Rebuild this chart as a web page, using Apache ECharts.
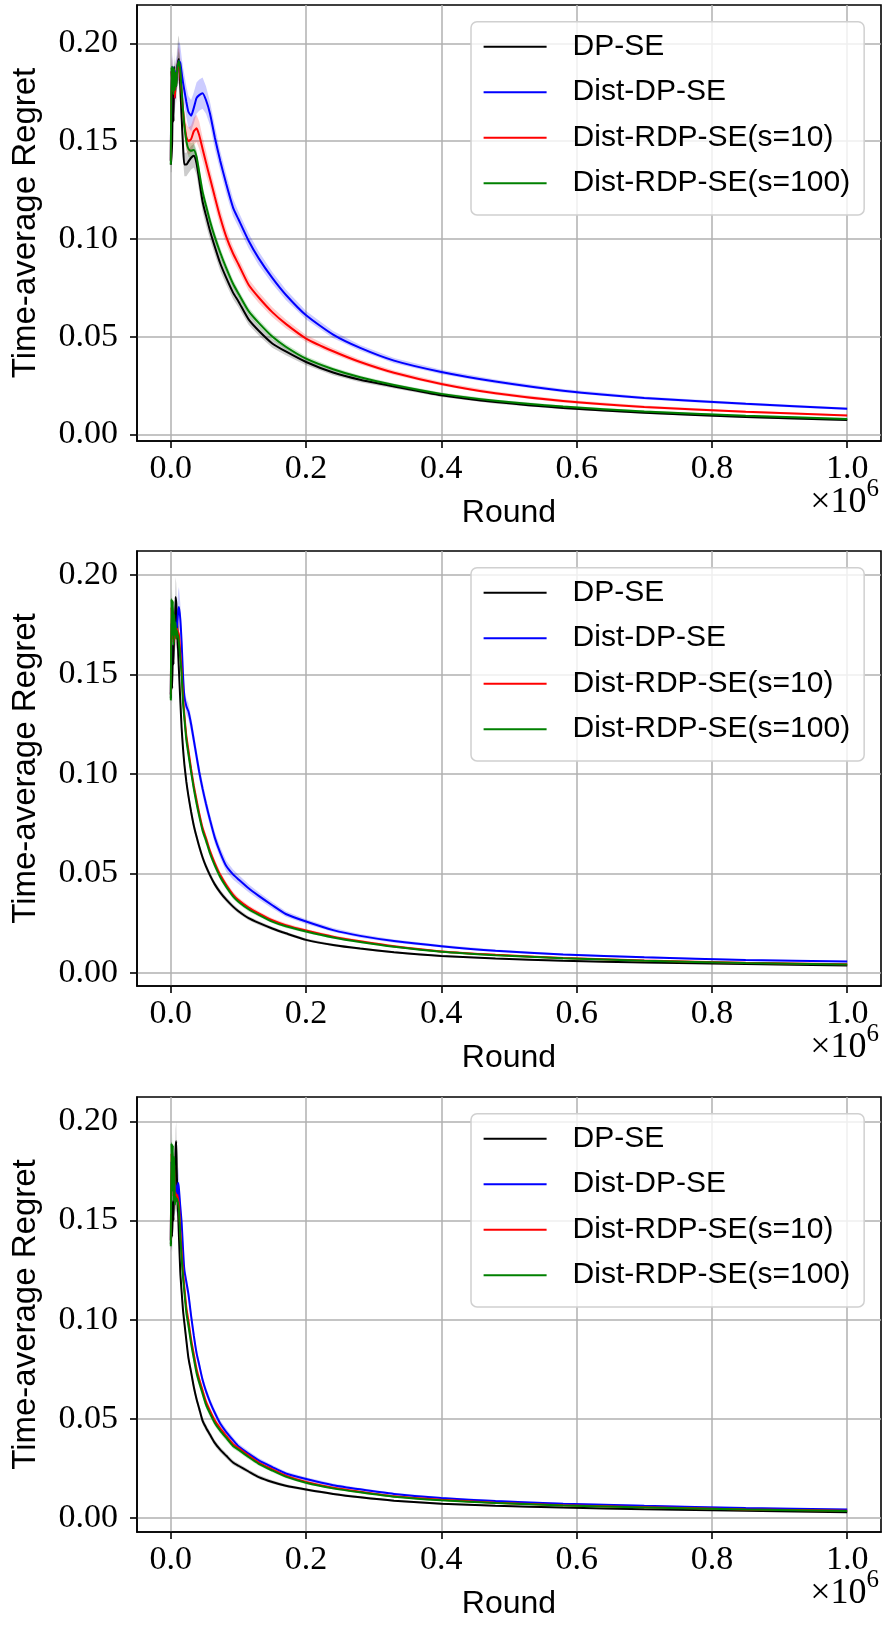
<!DOCTYPE html>
<html>
<head>
<meta charset="utf-8">
<script src="https://cdn.jsdelivr.net/npm/echarts@6/dist/echarts.min.js"></script>
<style>
  html, body { margin: 0; padding: 0; background: #fff; }
  #chart { width: 882px; height: 1625px; }
</style>
</head>
<body>
<div id="chart"></div>
<script>
// round index, in units of 10^6 rounds
const roundE6 = [0, 0.001, 0.002, 0.003, 0.004, 0.005, 0.006, 0.007, 0.008, 0.009, 0.010, 0.011, 0.012,
  0.014, 0.016, 0.018, 0.020, 0.023, 0.026, 0.030, 0.034, 0.038, 0.042, 0.047, 0.052, 0.058, 0.065,
  0.073, 0.082, 0.092, 0.10, 0.115, 0.13, 0.15, 0.17, 0.20, 0.24, 0.28, 0.33, 0.40, 0.48, 0.58, 0.70, 0.85, 1.00];

const methods = ['DP-SE', 'Dist-DP-SE', 'Dist-RDP-SE(s=10)', 'Dist-RDP-SE(s=100)'];
const xTicks = [0, 0.2, 0.4, 0.6, 0.8, 1.0];
const yTicks = [0, 0.05, 0.10, 0.15, 0.20];

// ---- panel 1: mean time-average regret
const p1Dpse = [0.138,0.142,0.150,0.185,0.160,0.188,0.172,0.184,0.178,0.186,0.189,0.191,0.192,
  0.178,0.162,0.148,0.138,0.138,0.1395,0.1415,0.1425,0.1387,0.130,0.119,0.112,0.104,0.096,
  0.0875,0.080,0.0725,0.068,0.0588,0.053,0.0465,0.0424,0.0370,0.0316,0.0279,0.0245,0.0200,0.0165,0.0135,0.0111,0.0089,0.0073];
const p1Dist = [0.140,0.186,0.178,0.188,0.176,0.184,0.172,0.182,0.186,0.184,0.188,0.190,0.191,
  0.190,0.185,0.180,0.176,0.170,0.165,0.163,0.167,0.172,0.1735,0.1745,0.171,0.164,0.152,
  0.140,0.128,0.116,0.110,0.099,0.090,0.080,0.0714,0.0609,0.051,0.0442,0.0377,0.0319,0.0270,0.0223,0.0186,0.0156,0.0131];
const p1Rdp10 = [0.140,0.186,0.176,0.187,0.175,0.183,0.172,0.181,0.185,0.183,0.187,0.189,0.190,
  0.184,0.175,0.166,0.159,0.152,0.150,0.151,0.155,0.1565,0.153,0.146,0.139,0.131,0.1215,
  0.111,0.101,0.0925,0.087,0.0765,0.070,0.0625,0.0565,0.049,0.0425,0.037,0.0315,0.0258,0.0210,0.0170,0.0140,0.0115,0.0097];
const p1Rdp100 = [0.138,0.188,0.176,0.188,0.174,0.187,0.176,0.185,0.178,0.184,0.188,0.190,0.191,
  0.186,0.176,0.166,0.158,0.150,0.146,0.145,0.1455,0.142,0.134,0.124,0.117,0.109,0.101,
  0.093,0.085,0.077,0.072,0.063,0.057,0.050,0.0448,0.0387,0.0333,0.0292,0.0252,0.0207,0.0172,0.0142,0.0117,0.0095,0.0079];
// panel 1: half width of the shaded band
const p1DpseBand = [0.004,0.008,0.008,0.008,0.008,0.008,0.008,0.008,0.009,0.010,0.011,0.012,0.012,
  0.010,0.008,0.007,0.006,0.006,0.006,0.006,0.006,0.006,0.006,0.005,0.005,0.0045,0.004,
  0.004,0.0035,0.0033,0.003,0.0028,0.0025,0.0022,0.002,0.0017,0.0014,0.0012,0.001,0.0009,0.0008,0.0007,0.0006,0.0005,0.0005];
const p1DistBand = [0.004,0.008,0.008,0.008,0.008,0.008,0.008,0.008,0.008,0.008,0.008,0.009,0.010,
  0.009,0.008,0.008,0.008,0.008,0.008,0.008,0.008,0.008,0.008,0.008,0.007,0.006,0.006,
  0.005,0.005,0.0045,0.004,0.0038,0.0035,0.003,0.0027,0.0022,0.0018,0.0015,0.0013,0.0011,0.001,0.0009,0.0008,0.0007,0.0006];
const p1Rdp10Band = [0.004,0.007,0.007,0.007,0.007,0.007,0.007,0.007,0.007,0.007,0.007,0.008,0.008,
  0.008,0.007,0.007,0.007,0.007,0.007,0.007,0.007,0.007,0.007,0.006,0.006,0.005,0.005,
  0.0045,0.004,0.0035,0.0032,0.003,0.0028,0.0025,0.0022,0.0018,0.0015,0.0013,0.0011,0.001,0.0009,0.0008,0.0007,0.0006,0.0005];
const p1Rdp100Band = [0.003,0.005,0.005,0.005,0.005,0.005,0.005,0.005,0.005,0.005,0.005,0.005,0.005,
  0.005,0.004,0.004,0.004,0.004,0.004,0.004,0.004,0.0035,0.0035,0.003,0.003,0.003,0.0028,
  0.0026,0.0024,0.0022,0.002,0.0019,0.0018,0.0016,0.0014,0.0012,0.001,0.0009,0.0008,0.0007,0.0006,0.0005,0.0005,0.0004,0.0004];

// ---- panel 2
const p2Dpse = [0.138,0.150,0.143,0.165,0.155,0.176,0.170,0.189,0.186,0.178,0.170,0.160,0.152,
  0.137,0.123,0.113,0.105,0.096,0.089,0.081,0.074,0.0685,0.0635,0.058,0.0535,0.0490,0.0445,
  0.0405,0.0368,0.0333,0.0310,0.0275,0.0251,0.0223,0.0199,0.0166,0.0140,0.0122,0.0104,0.0085,0.0072,0.0061,0.0052,0.0044,0.0037];
const p2Dist = [0.140,0.176,0.168,0.180,0.170,0.178,0.172,0.176,0.170,0.174,0.178,0.182,0.184,
  0.178,0.166,0.150,0.139,0.134,0.1315,0.125,0.117,0.109,0.101,0.0925,0.085,0.0768,0.068,
  0.0605,0.0537,0.0495,0.0470,0.0425,0.0387,0.0340,0.0296,0.0258,0.0215,0.0186,0.0160,0.0134,0.0111,0.0092,0.0078,0.0065,0.0057];
const p2Rdp10 = [0.140,0.184,0.168,0.182,0.166,0.176,0.168,0.172,0.170,0.173,0.172,0.172,0.170,
  0.161,0.152,0.139,0.130,0.119,0.112,0.1025,0.094,0.087,0.0802,0.0728,0.0678,0.0612,0.0552,
  0.0493,0.0442,0.0394,0.0366,0.0328,0.0299,0.0265,0.0240,0.0213,0.0182,0.0159,0.0134,0.0108,0.0091,0.0075,0.0062,0.0051,0.0043];
const p2Rdp100 = [0.137,0.188,0.170,0.187,0.165,0.180,0.170,0.176,0.168,0.172,0.170,0.169,0.166,
  0.158,0.150,0.136,0.128,0.117,0.110,0.101,0.0925,0.0853,0.0788,0.0715,0.0665,0.0600,0.0540,
  0.0482,0.0432,0.0385,0.0358,0.0320,0.0292,0.0258,0.0234,0.0208,0.0178,0.0155,0.0131,0.0106,0.0089,0.0073,0.0061,0.0050,0.0042];
const p2DpseBand = [0.004,0.008,0.008,0.008,0.008,0.008,0.009,0.010,0.010,0.008,0.007,0.006,0.005,
  0.004,0.003,0.003,0.003,0.0028,0.0026,0.0024,0.0022,0.002,0.002,0.0018,0.0017,0.0016,0.0015,
  0.0014,0.0013,0.0012,0.0011,0.001,0.001,0.0009,0.0008,0.0007,0.0006,0.0006,0.0005,0.0005,0.0004,0.0004,0.0003,0.0003,0.0003];
const p2DistBand = [0.004,0.008,0.008,0.008,0.008,0.008,0.008,0.008,0.008,0.009,0.010,0.010,0.010,
  0.008,0.006,0.005,0.004,0.004,0.004,0.004,0.004,0.0038,0.0036,0.0034,0.0032,0.003,0.003,
  0.0028,0.0027,0.0025,0.0023,0.002,0.0018,0.0016,0.0014,0.0012,0.001,0.0009,0.0008,0.0007,0.0006,0.0005,0.0005,0.0004,0.0004];
const p2Rdp10Band = [0.004,0.007,0.007,0.007,0.007,0.007,0.007,0.007,0.007,0.007,0.007,0.007,0.006,
  0.005,0.004,0.004,0.0035,0.003,0.003,0.0028,0.0026,0.0024,0.0022,0.002,0.0019,0.0018,0.0017,
  0.0016,0.0015,0.0014,0.0013,0.0012,0.0011,0.001,0.0009,0.0008,0.0007,0.0006,0.0006,0.0005,0.0005,0.0004,0.0004,0.0003,0.0003];
const p2Rdp100Band = [0.003,0.006,0.006,0.006,0.006,0.006,0.006,0.006,0.006,0.006,0.006,0.006,0.005,
  0.004,0.004,0.0035,0.003,0.003,0.0028,0.0026,0.0024,0.0022,0.002,0.0019,0.0018,0.0017,0.0016,
  0.0015,0.0014,0.0013,0.0012,0.0011,0.001,0.0009,0.0008,0.0007,0.0006,0.0006,0.0005,0.0005,0.0004,0.0004,0.0003,0.0003,0.0003];

// ---- panel 3
const p3Dpse = [0.138,0.145,0.142,0.160,0.150,0.172,0.165,0.186,0.190,0.172,0.162,0.152,0.142,
  0.124,0.114,0.105,0.0985,0.0895,0.0808,0.0736,0.0661,0.0601,0.0552,0.049,0.0456,0.0420,0.0379,
  0.0345,0.0314,0.0280,0.0264,0.0235,0.0207,0.0182,0.0163,0.0144,0.0122,0.0105,0.0088,0.0073,0.0062,0.0053,0.0045,0.0037,0.0030];
const p3Dist = [0.140,0.180,0.166,0.178,0.168,0.174,0.160,0.168,0.165,0.160,0.167,0.169,0.166,
  0.157,0.149,0.136,0.125,0.119,0.113,0.102,0.092,0.0833,0.0772,0.0696,0.064,0.0585,0.0531,
  0.0477,0.0434,0.0393,0.0362,0.0325,0.0291,0.0257,0.0225,0.0197,0.0166,0.0145,0.0122,0.0101,0.0086,0.0073,0.0062,0.0051,0.0044];
const p3Rdp10 = [0.140,0.184,0.166,0.182,0.162,0.178,0.160,0.164,0.162,0.163,0.162,0.162,0.158,
  0.145,0.134,0.124,0.1165,0.106,0.0995,0.090,0.0825,0.0752,0.070,0.0643,0.0587,0.054,0.0492,
  0.0452,0.0414,0.0373,0.0353,0.0315,0.0280,0.0246,0.0214,0.0182,0.0153,0.0133,0.0110,0.0092,0.0078,0.0065,0.0055,0.0044,0.0037];
const p3Rdp100 = [0.137,0.189,0.165,0.188,0.160,0.182,0.158,0.162,0.160,0.161,0.160,0.160,0.155,
  0.142,0.131,0.1215,0.114,0.1035,0.0972,0.088,0.0805,0.0733,0.0682,0.0627,0.0572,0.0527,0.048,
  0.0441,0.0404,0.0364,0.0345,0.0308,0.0274,0.024,0.0209,0.0178,0.0150,0.0130,0.0108,0.0090,0.0076,0.0064,0.0054,0.0043,0.0036];
const p3DpseBand = [0.004,0.008,0.008,0.008,0.008,0.008,0.009,0.010,0.010,0.008,0.007,0.006,0.005,
  0.004,0.0035,0.003,0.003,0.0028,0.0026,0.0024,0.0022,0.002,0.002,0.0018,0.0017,0.0016,0.0015,
  0.0014,0.0013,0.0012,0.0011,0.001,0.001,0.0009,0.0008,0.0007,0.0006,0.0006,0.0005,0.0005,0.0004,0.0004,0.0003,0.0003,0.0003];
const p3DistBand = [0.004,0.008,0.008,0.008,0.008,0.008,0.008,0.008,0.008,0.008,0.008,0.008,0.007,
  0.006,0.005,0.004,0.004,0.0035,0.0032,0.003,0.0028,0.0026,0.0024,0.0022,0.002,0.0019,0.0018,
  0.0017,0.0016,0.0015,0.0014,0.0013,0.0012,0.0011,0.001,0.0009,0.0008,0.0007,0.0006,0.0005,0.0005,0.0004,0.0004,0.0003,0.0003];
const p3Rdp10Band = [0.004,0.007,0.007,0.007,0.007,0.007,0.007,0.007,0.007,0.007,0.007,0.007,0.006,
  0.005,0.004,0.004,0.0035,0.003,0.003,0.0028,0.0026,0.0024,0.0022,0.002,0.0019,0.0018,0.0017,
  0.0016,0.0015,0.0014,0.0013,0.0012,0.0011,0.001,0.0009,0.0008,0.0007,0.0006,0.0006,0.0005,0.0005,0.0004,0.0004,0.0003,0.0003];
const p3Rdp100Band = [0.003,0.006,0.006,0.006,0.006,0.006,0.006,0.006,0.006,0.006,0.006,0.006,0.005,
  0.004,0.004,0.0035,0.003,0.003,0.0028,0.0026,0.0024,0.0022,0.002,0.0019,0.0018,0.0017,0.0016,
  0.0015,0.0014,0.0013,0.0012,0.0011,0.001,0.0009,0.0008,0.0007,0.0006,0.0006,0.0005,0.0005,0.0004,0.0004,0.0003,0.0003,0.0003];

const lineColors = ['#000000', '#0000ff', '#ff0000', '#008000'];
const bandColors = ['rgba(0,0,0,0.2)', 'rgba(0,0,255,0.2)', 'rgba(255,0,0,0.2)', 'rgba(0,128,0,0.2)'];

const panels = [
  { top: 5, height: 436, yMin: -0.0034, yMax: 0.2196,
    means: [p1Dpse, p1Dist, p1Rdp10, p1Rdp100], bands: [p1DpseBand, p1DistBand, p1Rdp10Band, p1Rdp100Band] },
  { top: 551, height: 435, yMin: -0.0066, yMax: 0.2121,
    means: [p2Dpse, p2Dist, p2Rdp10, p2Rdp100], bands: [p2DpseBand, p2DistBand, p2Rdp10Band, p2Rdp100Band] },
  { top: 1097, height: 435, yMin: -0.007, yMax: 0.2123,
    means: [p3Dpse, p3Dist, p3Rdp10, p3Rdp100], bands: [p3DpseBand, p3DistBand, p3Rdp10Band, p3Rdp100Band] }
];

const serif = 'Liberation Serif';
const sans = 'Liberation Sans';
const gridLine = { color: '#b0b0b0', width: 1.5 };

// shaded mean +/- band, drawn as one polygon through the axes of the panel
function bandSeries(pi, mean, band, color) {
  const pts = roundE6.map((x, i) => [x, mean[i] - band[i], mean[i] + band[i]]);
  return {
    type: 'custom', xAxisIndex: pi, yAxisIndex: pi, silent: true, clip: true,
    data: pts, encode: { x: 0, y: [1, 2] },
    renderItem: (params, api) => {
      if (params.dataIndex !== 0) return null;
      const upper = pts.map(d => api.coord([d[0], d[2]]));
      const lower = pts.map(d => api.coord([d[0], d[1]])).reverse();
      return { type: 'polygon', shape: { points: upper.concat(lower) }, style: { fill: color } };
    }
  };
}

const grid = [], xAxis = [], yAxis = [], legend = [], series = [], graphic = [];

panels.forEach((p, pi) => {
  grid.push({
    left: 137, right: 1, top: p.top, height: p.height,
    show: true, borderColor: '#000', borderWidth: 1.6, backgroundColor: 'transparent'
  });
  xAxis.push({
    type: 'value', gridIndex: pi, min: -0.05, max: 1.05,
    name: 'Round', nameLocation: 'middle', nameGap: 56,
    nameTextStyle: { fontFamily: sans, fontSize: 32, color: '#000' },
    axisLine: { show: true, onZero: false, lineStyle: { color: '#000', width: 1.6 } },
    axisTick: { show: true, inside: false, length: 7, customValues: xTicks, lineStyle: { color: '#000', width: 1.6 } },
    axisLabel: { customValues: xTicks, margin: 11, fontFamily: serif, fontSize: 34, color: '#000',
      formatter: v => v.toFixed(1) },
    splitLine: { show: true, lineStyle: gridLine }
  });
  yAxis.push({
    type: 'value', gridIndex: pi, min: p.yMin, max: p.yMax,
    name: 'Time-average Regret', nameLocation: 'middle', nameGap: 95,
    nameTextStyle: { fontFamily: sans, fontSize: 33, color: '#000' },
    axisLine: { show: true, onZero: false, lineStyle: { color: '#000', width: 1.6 } },
    axisTick: { show: true, inside: false, length: 7, customValues: yTicks, lineStyle: { color: '#000', width: 1.6 } },
    axisLabel: { customValues: yTicks, margin: 19, fontFamily: serif, fontSize: 34, color: '#000',
      formatter: v => v.toFixed(2) },
    splitLine: { show: true, lineStyle: gridLine }
  });
  legend.push({
    data: methods, orient: 'vertical', left: 471, top: p.top + 16.7,
    icon: 'rect', itemWidth: 63, itemHeight: 2, itemGap: 13.5,
    padding: [9, 14, 15.7, 12.6],
    backgroundColor: 'rgba(255,255,255,0.8)', borderColor: '#d0d0d0', borderWidth: 1.5, borderRadius: 6,
    textStyle: { fontFamily: sans, fontSize: 30, lineHeight: 32, color: '#000', padding: [0, 0, 0, 21] }
  });
  graphic.push({
    type: 'text', right: 3, top: p.top + p.height + 36,
    style: {
      text: '{a|×10}{b|6}',
      rich: {
        a: { fontFamily: serif, fontSize: 36, lineHeight: 44, verticalAlign: 'bottom', fill: '#000' },
        b: { fontFamily: serif, fontSize: 25, lineHeight: 44, verticalAlign: 'top', fill: '#000' }
      }
    }
  });

  methods.forEach((name, k) => {
    const mean = p.means[k];
    series.push(bandSeries(pi, mean, p.bands[k], bandColors[k]));
    series.push({
      name: name, type: 'line', xAxisIndex: pi, yAxisIndex: pi, symbol: 'none',
      smooth: 0.2,
      lineStyle: { color: lineColors[k], width: 2 }, itemStyle: { color: lineColors[k] },
      data: roundE6.map((x, i) => [x, mean[i]])
    });
  });
});

const chart = echarts.init(document.getElementById('chart'));
chart.setOption({
  animation: false,
  backgroundColor: '#fff',
  grid, xAxis, yAxis, legend, series, graphic
});
</script>
</body>
</html>
